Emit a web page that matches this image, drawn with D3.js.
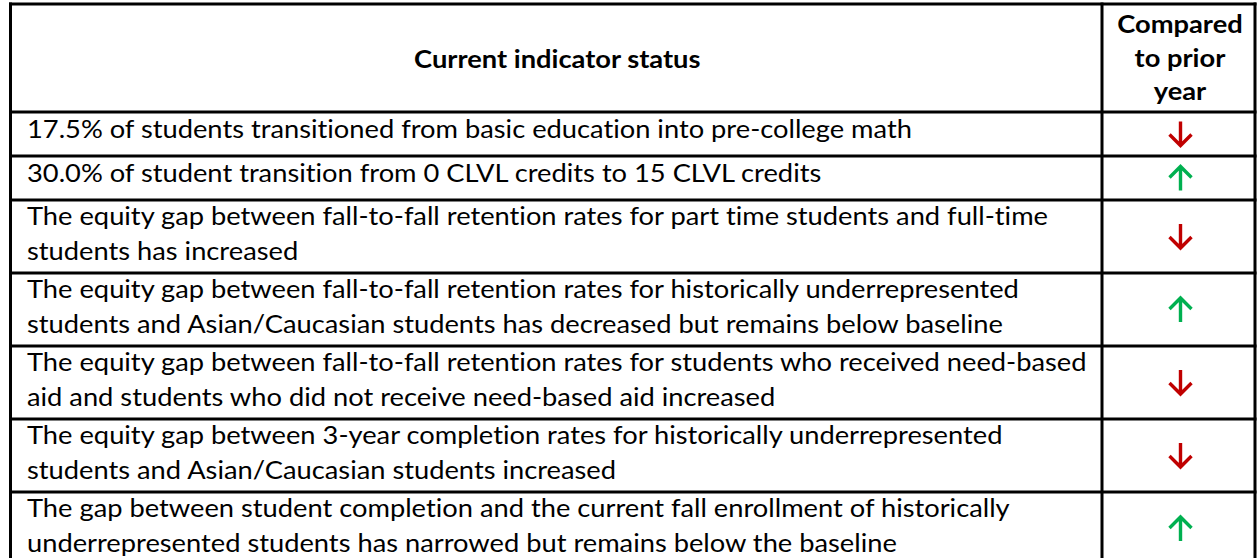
<!DOCTYPE html>
<html><head><meta charset="utf-8">
<script src="https://cdn.jsdelivr.net/npm/d3@7/dist/d3.min.js"></script>
<style>html,body{margin:0;padding:0;background:#fff;overflow:hidden}
text{font-variant-ligatures:none;font-feature-settings:"liga" 0,"clig" 0;}</style>
</head><body>
<svg id="c" width="1257" height="558"></svg>
<script>
// ---- data ----
const headerIndicator = "Current indicator status";
const headerCompared = ["Compared", "to prior", "year"];
const indicatorLines = [
  ["17.5% of students transitioned from basic education into pre-college math"],
  ["30.0% of student transition from 0 CLVL credits to 15 CLVL credits"],
  ["The equity gap between fall-to-fall retention rates for part time students and full-time",
   "students has increased"],
  ["The equity gap between fall-to-fall retention rates for historically underrepresented",
   "students and Asian/Caucasian students has decreased but remains below baseline"],
  ["The equity gap between fall-to-fall retention rates for students who received need-based",
   "aid and students who did not receive need-based aid increased"],
  ["The equity gap between 3-year completion rates for historically underrepresented",
   "students and Asian/Caucasian students increased"],
  ["The gap between student completion and the current fall enrollment of historically",
   "underrepresented students has narrowed but remains below the baseline"]
];
const trend = ["down", "up", "down", "up", "down", "down", "up"];

// ---- layout ----
const svg = d3.select("#c");
const tLeft = 10.5, tDivider = 1102, tRight = 1255, tTop = 4;
const headerH = 108;
const rowH = n => n === 1 ? 44 : 73;
const lineStep = 35;
const font = "Lato, 'Open Sans', sans-serif";
const fs = 24.5;
const colors = {down: "#C00000", up: "#00B050"};

const heights = [headerH].concat(indicatorLines.map(l => rowH(l.length)));
const edges = [0].concat(Array.from(d3.cumsum(heights)));
const y = d3.scaleLinear().domain([0, 1]).range([tTop, tTop + 1]);
const rowTop = i => y(edges[i]);
const x = d3.scaleOrdinal().domain(["left", "divider", "right"]).range([tLeft, tDivider, tRight]);

// compression factor (Calibri-like narrowness)
const probe = svg.append("text").attr("font-family", font).attr("font-size", fs)
  .text(indicatorLines[2][0]);
const k = 1021 / probe.node().getComputedTextLength();
probe.remove();

function fitText(sel) {
  sel.each(function() {
    const w = this.getComputedTextLength();
    d3.select(this).attr("textLength", w * k).attr("lengthAdjust", "spacingAndGlyphs");
  });
}

// header texts
const hdr = svg.append("g").attr("font-family", font).attr("font-size", fs)
  .attr("font-weight", "bold").attr("fill", "#000").attr("text-anchor", "middle");
hdr.append("text")
  .attr("x", (x("left") + x("divider")) / 2 + 1)
  .attr("y", rowTop(0) + 64)
  .text(headerIndicator).call(fitText);
hdr.selectAll("text.cmp").data(headerCompared).join("text").attr("class", "cmp")
  .attr("x", (x("divider") + x("right")) / 2 + 1.5)
  .attr("y", (d, i) => rowTop(0) + 29 + i * 33.5)
  .text(d => d).call(fitText);

// body texts
const body = svg.append("g").attr("font-family", font).attr("font-size", fs).attr("fill", "#000");
indicatorLines.forEach((lines, r) => {
  const t0 = rowTop(r + 1);
  body.selectAll(null).data(lines).join("text")
    .attr("x", x("left") + 16.5)
    .attr("y", (d, i) => t0 + (lines.length === 1 ? 26 : 25) + i * lineStep)
    .text(d => d).call(fitText);
});

// arrows
const arrowPath = "M0,-12.5 L0,11.5 M-11,0.5 L0,11.5 L11,0.5";
svg.append("g").selectAll("path").data(trend).join("path")
  .attr("d", arrowPath)
  .attr("transform", (d, i) => {
    const cy = (rowTop(i + 1) + rowTop(i + 2)) / 2;
    const cx = (x("divider") + x("right")) / 2 + 2;
    return `translate(${cx},${cy}) scale(1,${d === "up" ? -1 : 1})`;
  })
  .attr("fill", "none").attr("stroke", d => colors[d]).attr("stroke-width", 3.4)
  .attr("stroke-linejoin", "miter").attr("stroke-linecap", "butt");

// grid lines
const g = svg.append("g").attr("stroke", "#000").attr("stroke-width", 3).attr("fill", "none");
g.selectAll("line.h").data(edges).join("line").attr("class", "h")
  .attr("x1", x("left") - 1.5).attr("x2", x("right") + 1.5)
  .attr("y1", d => y(d)).attr("y2", d => y(d));
g.selectAll("line.v").data(["left", "divider", "right"]).join("line").attr("class", "v")
  .attr("x1", d => x(d)).attr("x2", d => x(d))
  .attr("y1", rowTop(0) - 1.5).attr("y2", rowTop(edges.length - 1) + 1.5);
</script>
</body></html>
